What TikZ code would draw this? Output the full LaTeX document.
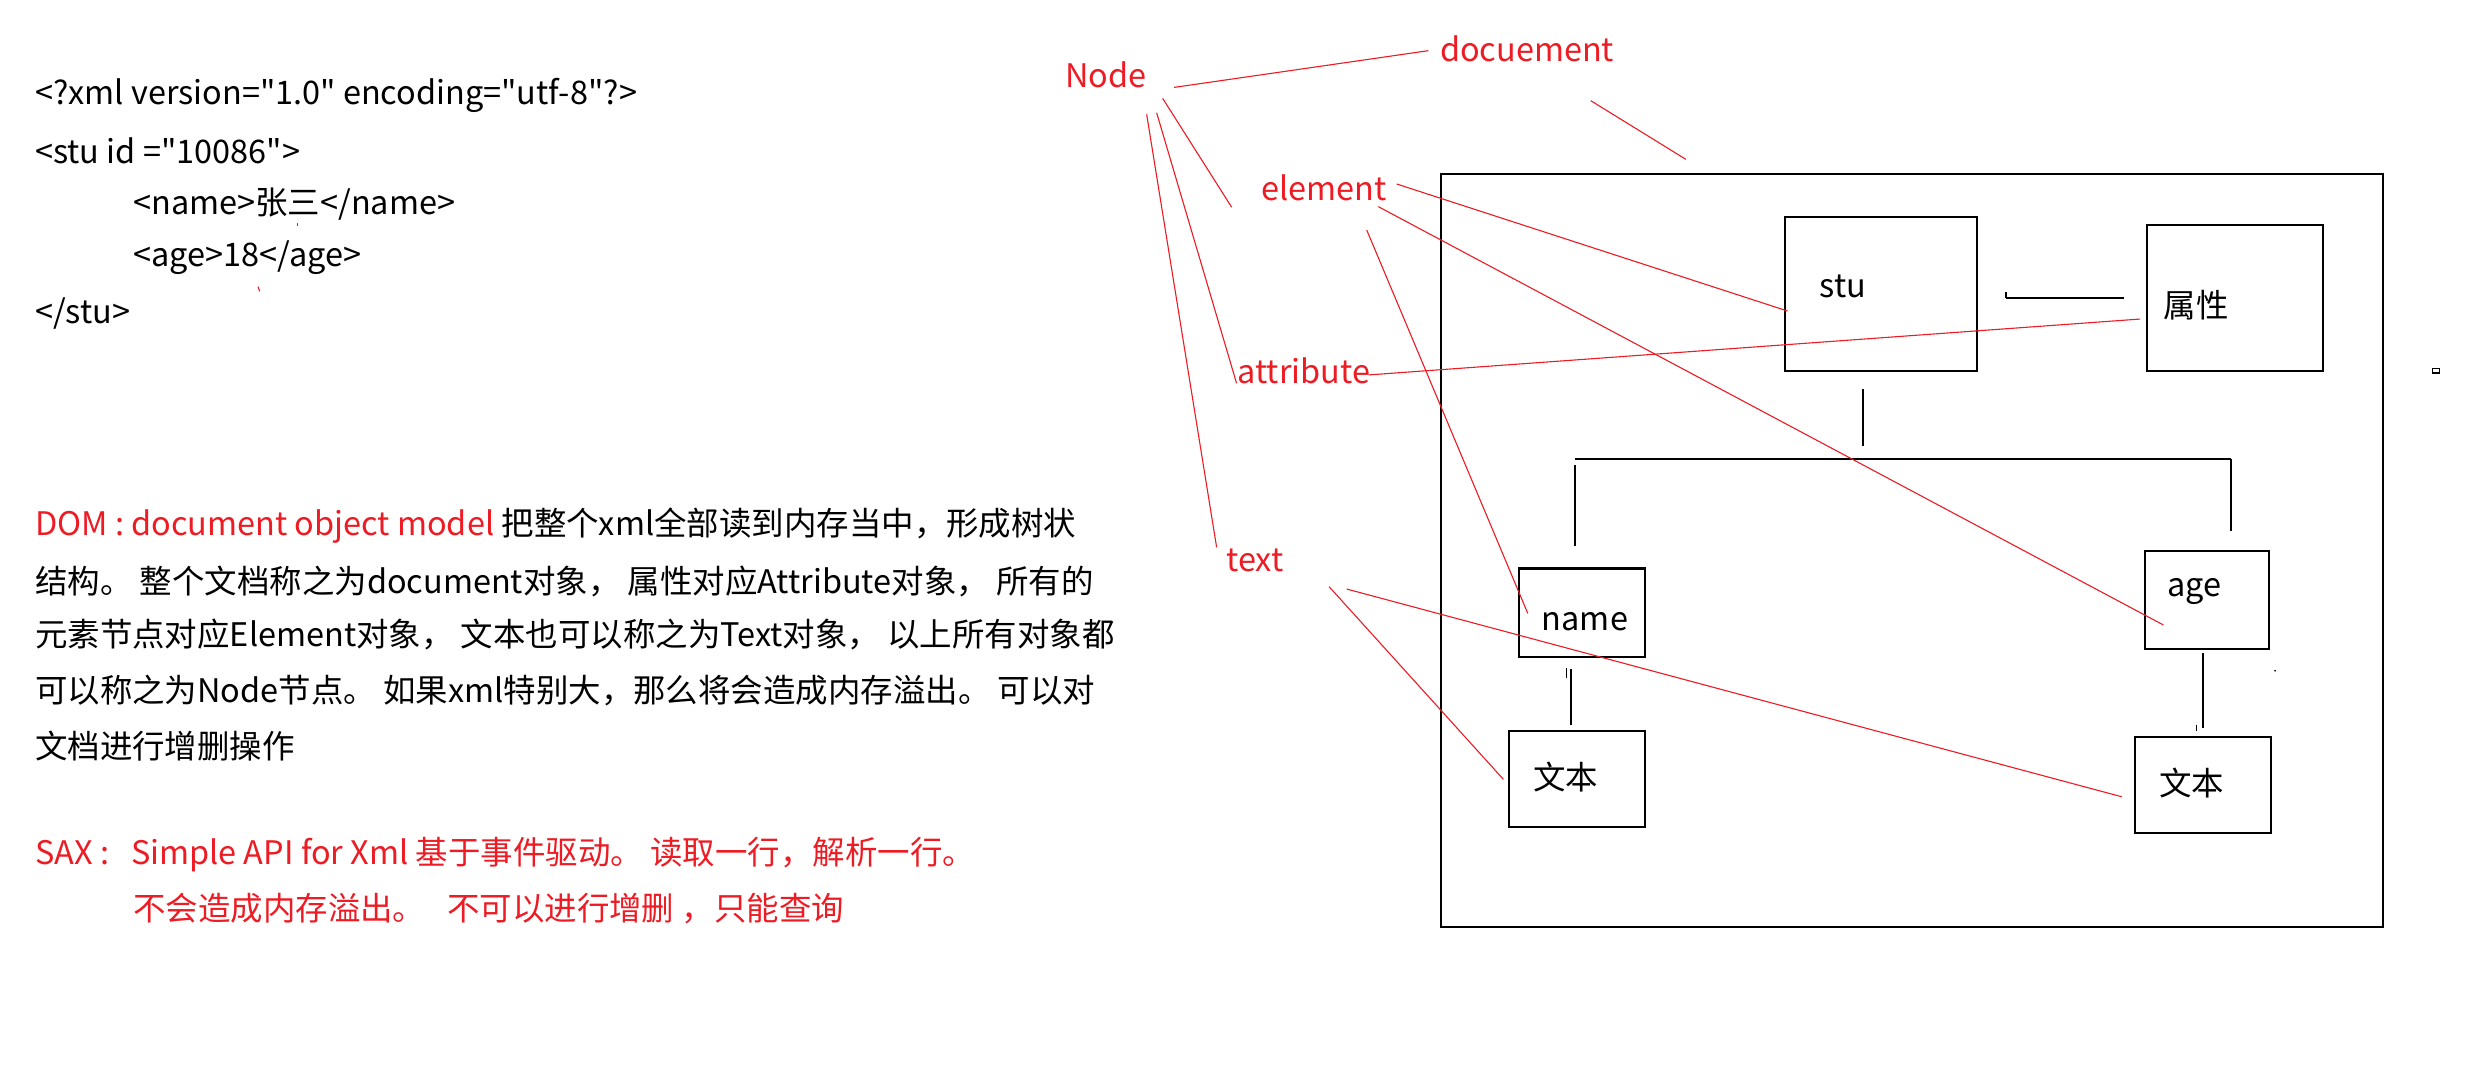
\documentclass[tikz,border=0pt]{standalone}
\usepackage{fontspec}
\setmainfont{Noto Sans CJK SC}[Ligatures=TeXOff]
\usepackage{tikz}
\definecolor{pen}{RGB}{237,28,36}

\begin{document}
\begin{tikzpicture}[x=1pt,y=-1pt,font=\fontsize{20.5}{24}\selectfont,
	box/.style={draw,line width=1.3pt,inner sep=0pt},
	txt/.style={anchor=west,inner sep=0pt},
	tag/.style={text=pen,inner sep=0pt},
	red line/.style={draw=pen,line width=0.7pt},
	tree/.style={line width=1.3pt}]
		
		\useasboundingbox (0,0) rectangle (1560,673);
		
		\node[txt] (x1) at (22,60) {<?xml version="1.0" encoding="utf-8"?>};
		\node[txt] (x2) at (22,95) {<stu id ="10086">};
		\node[txt] (x3) at (84,129) {<name>张三</name>};
		\node[txt] (x4) at (84,163) {<age>18</age>};
		\node[txt] (x5) at (22,198) {</stu>};
		
		\node[txt] (d1) at (22,332) {\textcolor{pen}{DOM : document object model} 把整个xml全部读到内存当中，形成树状};
		\node[txt] (d2) at (22,367) {结构。 整个文档称之为document对象， 属性对应Attribute对象， 所有的};
		\node[txt] (d3) at (22,401) {元素节点对应Element对象， 文本也可以称之为Text对象， 以上所有对象都};
		\node[txt] (d4) at (22,436) {可以称之为Node节点。 如果xml特别大，那么将会造成内存溢出。 可以对};
		\node[txt] (d5) at (22,471) {文档进行增删操作};
		\node[txt, text=pen] (s1) at (22,540) {SAX :\ \ \ Simple API for Xml 基于事件驱动。 读取一行，解析一行。};
		\node[txt, text=pen] (s2) at (84,574) {不会造成内存溢出。\ \ \ 不可以进行增删 ，只能查询};
		
		\node[box, minimum width=595, minimum height=475.3] (doc) at (1207.6,347.7) {};
		\node[box, minimum width=121.3, minimum height=97.2] (stu) at (1188,185.5) {};
		\node[box, minimum width=111.4, minimum height=92] (attr) at (1411.5,188.1) {};
		\node[box, minimum width=79.8, minimum height=55.7] (name) at (999.1,386.9) {};
		\node[box, minimum width=78.6, minimum height=62.1] (age) at (1393.8,378.9) {};
		\node[box, minimum width=86.2, minimum height=60.8] (wenL) at (995.9,491.9) {};
		\node[box, minimum width=85.9, minimum height=60.6] (wenR) at (1391.5,495.6) {};
		
		\node[inner sep=0pt] (stu txt) at (1164,181) {stu};
		\node[inner sep=0pt] (attr txt) at (1387.2,192.6) {属性};
		\node[inner sep=0pt] (name txt) at (1001,392.9) {name};
		\node[inner sep=0pt] (age txt) at (1385.7,373.5) {age};
		\node[inner sep=0pt] (wenL txt) at (988.9,491) {文本};
		\node[inner sep=0pt] (wenR txt) at (1384.2,494.7) {文本};
		
		\node[tag] (Node) at (698.4,47) {Node};
		\node[tag] (docu) at (964.5,31) {docuement};
		\node[tag] (elem) at (836,118.7) {element};
		\node[tag] (attrib) at (823.5,234.1) {attribute};
		\node[tag] (text) at (792.6,354) {text};
		
		\coordinate (bus) at (1176.6,289.9);
		\coordinate (busL) at (995,289.9);
		\coordinate (busR) at (1409.1,289.9);
		\coordinate (sideL) at (1267,188.4);
		\coordinate (sideR) at (1341.5,188.4);
		
		\draw[tree, shorten <=11pt, shorten >=8.5pt] (bus |- stu.south) -- (bus);
		\draw[tree] (busL) -- (busR);
		\draw[tree, shorten <=4pt, shorten >=13.3pt] (busL) -- (busL |- name.north);
		\draw[tree, shorten >=12pt] (busR) -- (busR |- age.north);
		\draw[tree, shorten <=7.3pt, shorten >=3pt] ([xshift=-6.9pt]name.south) -- ([xshift=-6.9pt]name.south |- wenL.north);
		\draw[tree, shorten <=2pt, shorten >=4.7pt] ([xshift=-2.4pt]age.south) -- ([xshift=-2.4pt]age.south |- wenR.north);
		\draw[tree] (sideL) -- (sideR);
		\draw[line width=1pt] (sideL) -- ++(0,-4);
		\draw[line width=0.8pt] (989.5,422) -- (989.5,428);
		\draw[line width=0.8pt] (1387.4,457.6) -- (1387.4,461.8);
		\draw[line width=0.8pt] (1536.5,232.6) rectangle (1540.7,235.6);
		\fill (1436.9,423.6) circle (0.6);
		
		\coordinate (n1) at (741.5,55.2); \coordinate (n2) at (902.1,32);
		\coordinate (n3) at (1004.7,63.6); \coordinate (n4) at (1064.7,100.6);
		\coordinate (n5) at (734.3,62.1); \coordinate (n6) at (777.9,130.9);
		\coordinate (n7) at (730.5,71.2); \coordinate (n8) at (781,242.1);
		\coordinate (n9) at (724.2,72.2); \coordinate (n10) at (768.4,345.7);
		\coordinate (e1) at (882.1,116.2); \coordinate (e2) at (1128.9,196.4);
		\coordinate (e3) at (870.5,130.5); \coordinate (e4) at (1366.3,394.7);
		\coordinate (e5) at (863.2,145.3); \coordinate (e6) at (964.9,387.4);
		\coordinate (a1) at (864.2,236.8); \coordinate (a2) at (1351.6,201.5);
		\coordinate (t1) at (839.4,370.5); \coordinate (t2) at (949.5,492.2);
		\coordinate (t3) at (850.5,372); \coordinate (t4) at (1340,503.2);
		
		\path[red line]
		(n1) edge (n2)
		(n3) edge (n4)
		(n5) edge (n6)
		(n7) edge (n8)
		(n9) edge (n10)
		(e1) edge (e2)
		(e3) edge (e4)
		(e5) edge (e6)
		(a1) edge (a2)
		(t1) edge (t2)
		(t3) edge (t4)
		(188,141) edge (188,143)
		(163,181) edge (164,184);
		
\end{tikzpicture}
\end{document}
